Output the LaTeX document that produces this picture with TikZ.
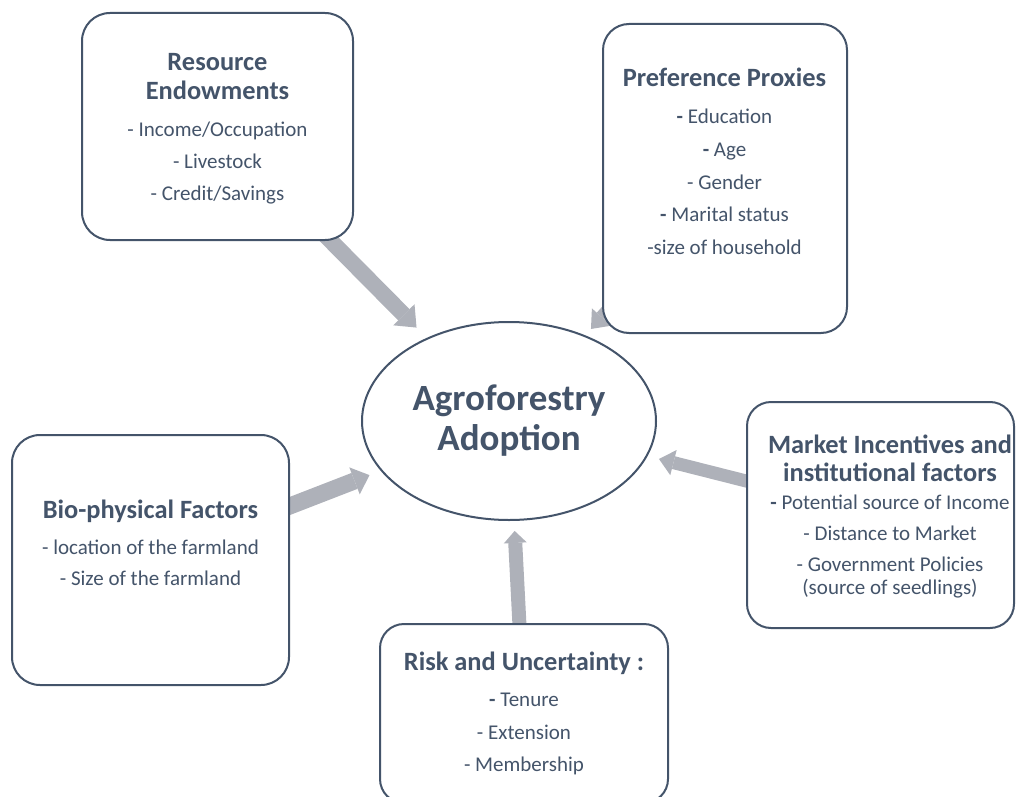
\documentclass[tikz,border=0pt]{standalone}
\usepackage{fontspec}
\setmainfont{Carlito}
\usetikzlibrary{arrows.meta,shapes.geometric,backgrounds}
\definecolor{txt}{HTML}{44546A}
\definecolor{arr}{RGB}{174,177,185}
\begin{document}
\begin{tikzpicture}[x=1pt,y=-1pt,
  box/.style={draw=txt, line width=2pt, fill=white, rounded corners=#1, inner sep=0pt},
  ttl/.style={anchor=base, text=txt, inner sep=0pt, font=\fontsize{26.4}{30}\selectfont\bfseries},
  itm/.style={anchor=base, text=txt, inner sep=0pt, font=\fontsize{21}{25}\selectfont},
  big/.style={anchor=base, text=txt, inner sep=0pt, font=\fontsize{37}{40}\selectfont\bfseries},
  blk/.style n args={3}{draw=arr, line width=#1, -{Triangle[width=#2,length=#3,line width=0pt,fill=arr]}}
]
\useasboundingbox (0,0) rectangle (1017,797);

% boxes
\node[box=28pt, minimum width=271pt, minimum height=227pt] (res) at (217.5,126.5) {};
\node[box=26pt, minimum width=244pt, minimum height=309pt] (pref) at (725,178.5) {};
\node[box=28pt, minimum width=277pt, minimum height=250pt] (bio) at (150.5,560) {};
\node[box=24pt, minimum width=267pt, minimum height=226pt] (mkt) at (880.5,515) {};
\node[box=24pt, minimum width=288pt, minimum height=179pt] (risk) at (524,713.5) {};
\node[draw=txt, line width=2pt, fill=white, ellipse, inner sep=0pt,
      minimum width=294pt, minimum height=198pt] (ell) at (509,421) {};

% ellipse text
\node[big] (ell-1) at (509,410.7) {Agroforestry};
\node[big] (ell-2) at (509,450) {Adoption};

% Resource Endowments
\node[ttl] (res-1) at (217.5,71) {Resource};
\node[ttl] (res-2) at (217.5,99.3) {Endowments};
\node[itm] (res-3) at (217.5,136.7) {- Income/Occupation};
\node[itm] (res-4) at (217.5,168.5) {- Livestock};
\node[itm] (res-5) at (217.5,200.7) {- Credit/Savings};

% Preference Proxies
\node[ttl] (pref-1) at (724.5,87) {Preference Proxies};
\node[itm] (pref-2) at (724.5,124) {\textbf{-} Education};
\node[itm] (pref-3) at (724.5,156.7) {\textbf{-} Age};
\node[itm] (pref-4) at (724.5,189) {- Gender};
\node[itm] (pref-5) at (724.5,221.7) {\textbf{-} Marital status};
\node[itm] (pref-6) at (724.5,254.3) {-size of household};

% Bio-physical Factors
\node[ttl] (bio-1) at (150.5,518.3) {Bio-physical Factors};
\node[itm] (bio-2) at (150.5,554) {- location of the farmland};
\node[itm] (bio-3) at (150.5,585.7) {- Size of the farmland};

% Market Incentives
\node[ttl] (mkt-1) at (890,453) {Market Incentives and};
\node[ttl] (mkt-2) at (890,481) {institutional factors};
\node[itm] (mkt-3) at (890,509) {\textbf{-} Potential source of Income};
\node[itm] (mkt-4) at (890,540) {- Distance to Market};
\node[itm] (mkt-5) at (890,571) {- Government Policies};
\node[itm] (mkt-6) at (890,594) {(source of seedlings)};

% Risk and Uncertainty
\node[ttl] (risk-1) at (524,670) {Risk and Uncertainty :};
\node[itm] (risk-2) at (524,706.7) {\textbf{-} Tenure};
\node[itm] (risk-3) at (524,739.3) {- Extension};
\node[itm] (risk-4) at (524,771.7) {- Membership};

% block arrows
\begin{pgfonlayer}{background}
\draw[blk={16pt}{30pt}{18pt}, shorten >=14.5pt] (res.center) -- (ell);
\draw[blk={13pt}{26pt}{16pt}, shorten >=8.5pt] (pref.center) -- (ell);
\draw[blk={13pt}{26pt}{15pt}, shorten >=11.7pt] (mkt.center) -- (ell);
\draw[blk={17pt}{29pt}{16pt}, shorten >=12pt] (bio.center) -- (ell);
\draw[blk={14pt}{23pt}{12pt}, shorten >=10pt] (risk.center) -- (ell);
\end{pgfonlayer}
\end{tikzpicture}
\end{document}
